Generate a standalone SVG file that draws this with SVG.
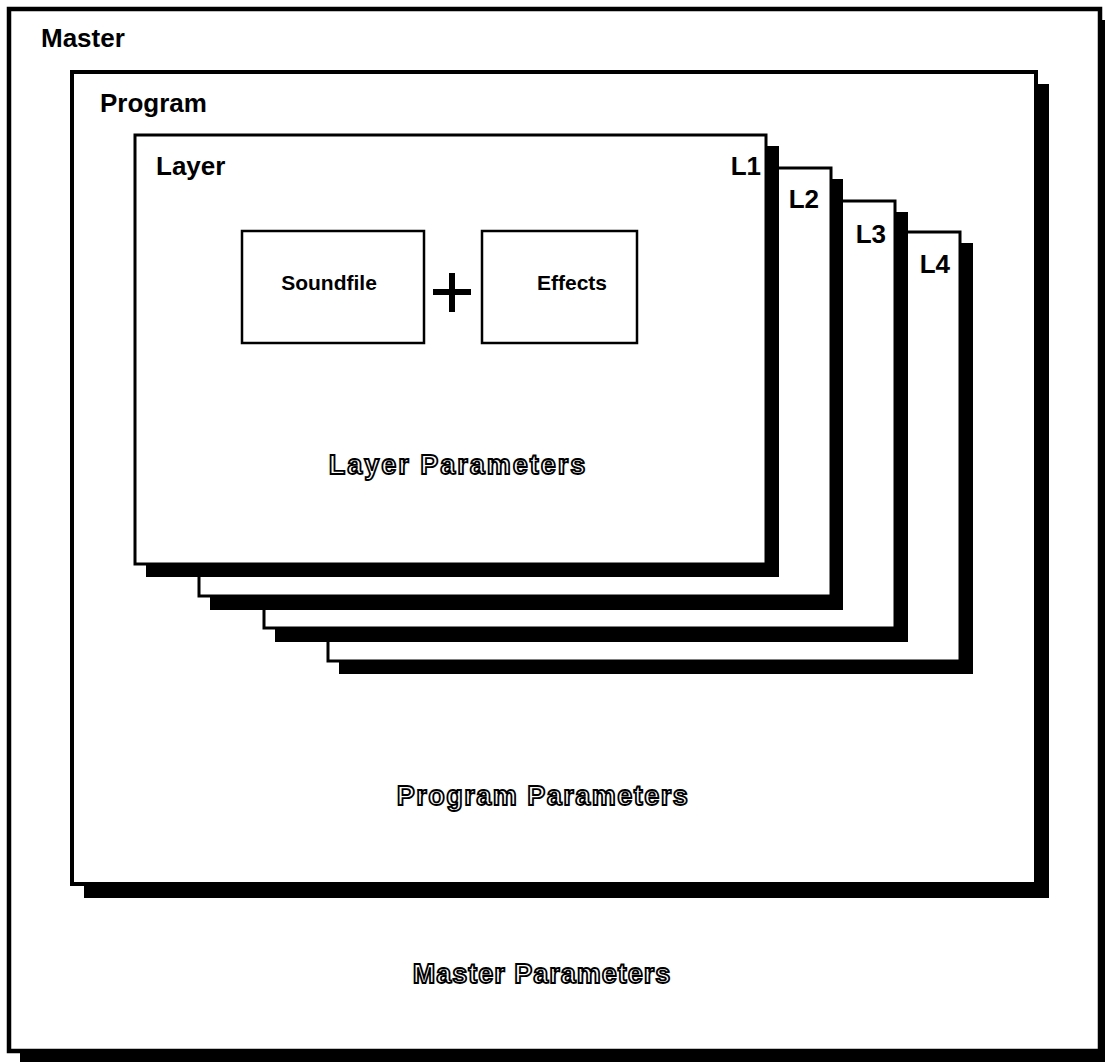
<svg xmlns="http://www.w3.org/2000/svg" width="1105" height="1062" viewBox="0 0 1105 1062">
<style>
.bg{fill:#fff}
.box{fill:#fff;stroke:#000}
.shadow{fill:#000}
.lbl{font-family:"Liberation Sans",Arial,sans-serif;font-weight:bold;fill:#000}
.outline{font-family:"Liberation Sans",Arial,sans-serif;font-weight:bold;font-size:27px;fill:#fff;stroke:#000;stroke-width:1.8;text-anchor:middle}
</style>
<rect class="bg" x="0" y="0" width="1105" height="1062"/>
<g id="master">
  <rect class="shadow" x="20" y="20" width="1093" height="1044"/>
  <rect class="box" x="9" y="9" width="1091" height="1042" stroke-width="4.5"/>
  <text class="lbl" x="41" y="47" font-size="26">Master</text>
  <text class="outline" x="542" y="983" letter-spacing="1">Master Parameters</text>
</g>
<g id="program">
  <rect class="shadow" x="84" y="84" width="965" height="814"/>
  <rect class="box" x="72" y="72" width="964" height="812" stroke-width="4"/>
  <text class="lbl" x="100" y="112" font-size="26">Program</text>
  <text class="outline" x="543" y="805" letter-spacing="1.5">Program Parameters</text>
</g>
<g id="layer-L4">
  <rect class="shadow" x="339" y="243" width="634" height="431"/>
  <rect class="box" x="328" y="232" width="632" height="429" stroke-width="3"/>
  <text class="lbl" x="950" y="273" font-size="26" text-anchor="end">L4</text>
</g>
<g id="layer-L3">
  <rect class="shadow" x="275" y="212" width="633" height="430"/>
  <rect class="box" x="264" y="201" width="631" height="427" stroke-width="3"/>
  <text class="lbl" x="886" y="243" font-size="26" text-anchor="end">L3</text>
</g>
<g id="layer-L2">
  <rect class="shadow" x="210" y="179" width="633" height="431"/>
  <rect class="box" x="199" y="168" width="632" height="428" stroke-width="3"/>
  <text class="lbl" x="819" y="208" font-size="26" text-anchor="end">L2</text>
</g>
<g id="layer-L1">
  <rect class="shadow" x="146" y="146" width="633" height="431"/>
  <rect class="box" x="135" y="135" width="631" height="429" stroke-width="3"/>
  <text class="lbl" x="156" y="175" font-size="26">Layer</text>
  <text class="lbl" x="761" y="175" font-size="26" text-anchor="end">L1</text>
  <text class="outline" x="458" y="474" letter-spacing="2">Layer Parameters</text>
</g>
<g id="soundfile">
  <rect class="box" x="242" y="231" width="182" height="112" stroke-width="2.5"/>
  <text class="lbl" x="329" y="290" font-size="21" text-anchor="middle">Soundfile</text>
</g>
<g id="plus">
  <rect class="shadow" x="433" y="289" width="38" height="6"/>
  <rect class="shadow" x="449" y="273" width="6" height="39"/>
</g>
<g id="effects">
  <rect class="box" x="482" y="231" width="155" height="112" stroke-width="2.5"/>
  <text class="lbl" x="572" y="290" font-size="21" text-anchor="middle">Effects</text>
</g>
<g id="connectors"/>
</svg>
